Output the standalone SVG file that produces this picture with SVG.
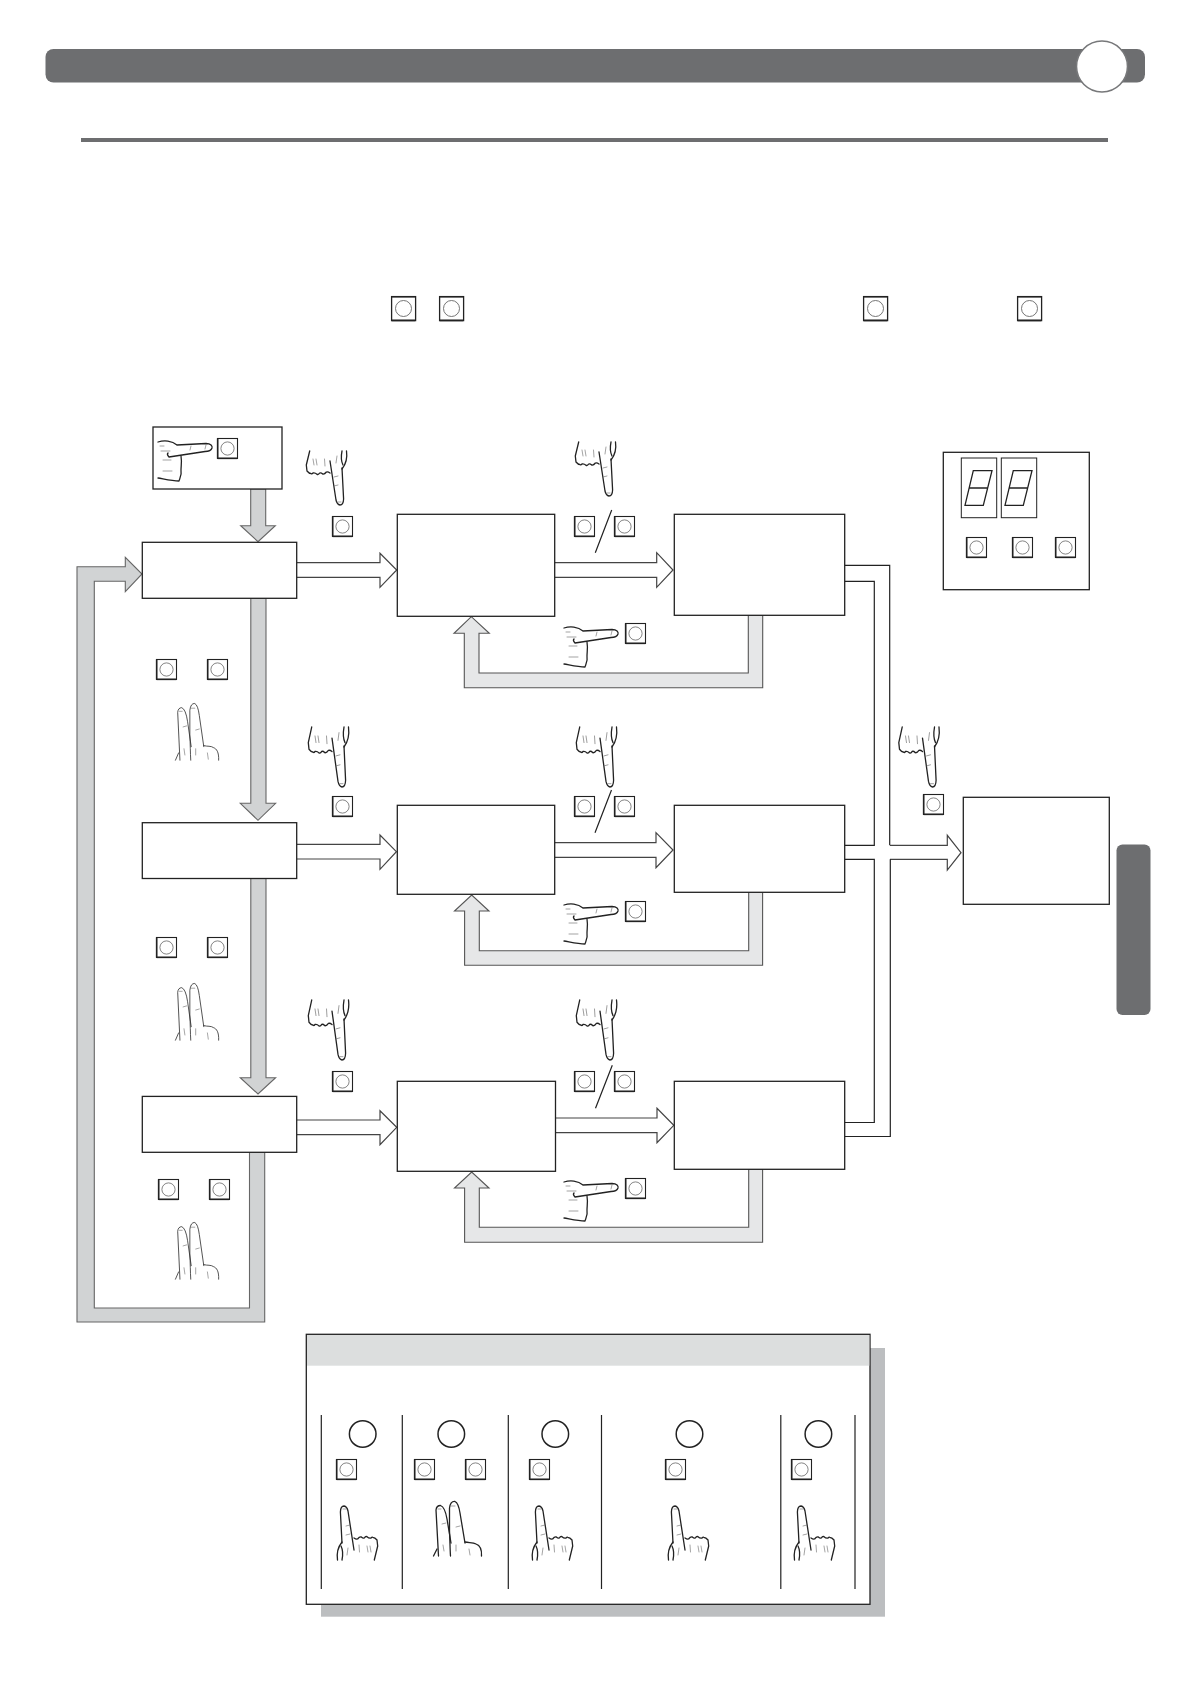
<svg xmlns="http://www.w3.org/2000/svg" xmlns:xlink="http://www.w3.org/1999/xlink" width="1190" height="1684" viewBox="0 0 1190 1684">
<style>
.box{fill:#fff;stroke:#222;stroke-width:1.3}
.thin{fill:#fff;stroke:#222;stroke-width:1}
.dark{fill:#6d6e70}
.white{fill:#fff;stroke:#444;stroke-width:1.2}
.grey{fill:#d1d3d4;stroke:#666;stroke-width:1.1}
.light{fill:#e6e7e8;stroke:#555;stroke-width:1.1}
.line{fill:none;stroke:#222;stroke-width:1.2}
.ink{fill:none;stroke:#222;stroke-linecap:round;stroke-linejoin:round}
.fine{fill:none;stroke:#666;stroke-width:.6;stroke-linecap:round}
.seg{fill:none;stroke:#222;stroke-width:1.3}
.thick{fill:none;stroke:#222;stroke-width:1.5}
.h1{stroke-width:1.3}
.h2{stroke-width:.8}
</style>
<defs>
<g id="btn">
<rect x="0.5" y="0.5" width="20" height="20" fill="#fff" stroke="#222" stroke-width="1.1"/>
<path d="M0.7,20.3H20.3" fill="none" stroke="#222" stroke-width="1.6"/>
<path d="M0.7,0.5V20.5" fill="none" stroke="#222" stroke-width="1.6"/>
<circle cx="10.5" cy="10.5" r="6.6" fill="#fff" stroke="#666" stroke-width=".8"/>
</g>
<g id="btnL">
<rect x="0.6" y="0.6" width="24" height="24" fill="#fff" stroke="#222" stroke-width="1.3"/>
<path d="M0.8,24.4H24.2M0.8,.8H24.2" fill="none" stroke="#222" stroke-width="1.6"/>
<circle cx="12.5" cy="12.5" r="8" fill="#fff" stroke="#666" stroke-width=".9"/>
</g>
<g id="handUp">
<path class="ink" d="M5,37 L3.4,6 Q3.6,0 7,0 Q10,0.5 11,5 L17,44"/>
<path class="ink" d="M17,32 Q19,33.500 20.600,33 Q22.500,30.500 24.300,31 Q26,32.500 27.300,32 Q28.500,30 30,30.700 Q32,32.500 34,32 Q35,30.800 35.700,31.300 Q38,31.500 40,34 L40.700,40 L37.300,54"/>
<path class="ink" d="M5,36 C1,41 -0.500,47 0.500,54"/>
<path class="ink" d="M4,40 C6,44 6,49 5,54"/>
<path class="fine" d="M6,3h3M9,20l4,-1M9,29l4,-1M11,42l-1,7M22,39l0.500,7M30,40l1,6M33,40l1,6"/>
</g>
<g id="handTwo">
<path class="ink" d="M5.500,55 L3,9 Q3.500,4.500 7.500,4.500 Q12,6 14,18 L18,42"/>
<path class="ink" d="M17.500,55 C17,48 17,40 16.500,30 L16.500,7 Q17.500,0 22,0.500 Q25.500,2 27,12 L32,42"/>
<path class="ink" d="M32,41 C36,42 40,41 43,43 C46,44 49,47 48.500,55"/>
<path class="ink" d="M0.500,55 L4,48"/>
<path class="fine" d="M5,8h3M18,5h4M9,23l4,-1M23,26l4,-1M10,44l1,6M23,44l0,6M36,48l1,6"/>
</g>
<g id="handRight">
<path class="ink" d="M0,2 C6,0 14,0.500 19,5 L48,3.500 C53,3.500 54.500,6 54,8 C53,11 50,11.500 47,11.500 L11,17 C9,15 9,14 10,13"/>
<path class="ink" d="M23,16 C24,22 23,26 23,30 C24,35 22,38 21,41 C14,41 6,39 0,38"/>
<path class="fine" d="M3,11h9M5,20h8M5,31h9M32,10l1,-4M47,9l1,-4M2,6h4"/>
</g>
<g id="digit">
<path class="seg" d="M8.300,0H27L18.300,34.700H0ZM4.200,17.300H22.600"/>
</g>
</defs>

<g id="header">
<rect class="dark" x="45.500" y="49" width="1099.500" height="33.500" rx="8"/>
<circle cx="1102" cy="66.500" r="25.500" fill="#fff" stroke="#77787a" stroke-width="1.600"/>
<rect class="dark" x="81" y="138" width="1027" height="4"/>
<rect class="dark" x="1116.500" y="844.500" width="34" height="170.500" rx="6"/>
</g>
<g id="top-buttons">
<use xlink:href="#btnL" href="#btnL" x="391" y="296"/>
<use xlink:href="#btnL" href="#btnL" x="439" y="296"/>
<use xlink:href="#btnL" href="#btnL" x="863" y="296"/>
<use xlink:href="#btnL" href="#btnL" x="1017" y="296"/>
</g>

<g id="connectors">
<path class="grey" d="M250.700,489V525.700H240.700L258,541.700L275.300,525.700H265.700V489Z"/>
<path class="grey" d="M250.800,598V803.300H240.300L258,820.300L275.600,803.300H266V598Z"/>
<path class="grey" d="M250.800,878V1077.700H240.300L258,1094L275.600,1077.700H266V878Z"/>
<path class="grey" d="M249.500,1152V1308H94.300V581.300H125.300V591.700L142,574L125.300,557.300V566.700H77V1322H264.700V1152Z"/>

<path class="white" d="M296.700,562.700H380V553.300L396.700,570L380,587.300V577.300H296.700"/>
<path class="white" d="M554.700,562.700H656.700V552.700L673,570L656.700,587.300V577.300H554.700"/>
<path class="light" d="M748.300,615V673H479V633.300H489.300L471.300,616.700L454,633.300H464.300V687.700H762.700V615Z"/>

<path class="white" d="M296.700,844.300H380V835L396.400,851.700L380,869.300V859H296.700"/>
<path class="white" d="M554.700,842.700H656V832.700L673,850L656,867.700V857.300H554.700"/>
<path class="light" d="M748.700,892V950.700H479.300V911H489L471.700,895L454.500,911H464.600V965.300H762.600V892Z"/>

<path class="white" d="M296.700,1120H380V1110.700L396.700,1127.300L380,1144.700V1134.700H296.700"/>
<path class="white" d="M555.500,1118H657V1108.300L673.800,1125.300L657,1142.700V1132.700H555.500"/>
<path class="light" d="M748.700,1169V1227.300H479.300V1188H489L471.700,1172L454.500,1188H464.600V1242.300H762.600V1169Z"/>

<path class="line" d="M844.700,565.300H889.700V845.300M844.700,581.300H874.300V845.300H844.700"/>
<path class="white" d="M890,845.300H947.300V835.300L961,852.700L947.300,870V859.300H890"/>
<path class="line" d="M890.300,859.300V1136.500H844.700M844.700,859.300H874.300V1122.500H844.700"/>
<path class="line" d="M611.700,510L595.300,552.700M611.500,790L595,832.700M612.300,1065.300L595.500,1108.300"/>
</g>

<g id="node-start">
<rect class="box" x="153" y="427" width="129" height="62"/>
<use class="h1" xlink:href="#handRight" href="#handRight" x="158" y="440"/>
<use xlink:href="#btn" href="#btn" x="217" y="438"/>
</g>
<g id="node-a"><rect class="box" x="142.300" y="542.300" width="154.400" height="56"/></g>
<g id="node-b"><rect class="box" x="142.300" y="822.700" width="154.400" height="55.800"/></g>
<g id="node-c"><rect class="box" x="142.300" y="1096.400" width="154.400" height="55.900"/></g>

<g id="node-r1-l"><rect class="box" x="397.300" y="514.300" width="157.400" height="102"/></g>
<g id="node-r1-r"><rect class="box" x="674.300" y="514.300" width="170.400" height="101"/></g>
<g id="node-r2-l"><rect class="box" x="397.300" y="805.300" width="157.400" height="89"/></g>
<g id="node-r2-r"><rect class="box" x="674.300" y="805.300" width="170.400" height="87"/></g>
<g id="node-r3-l"><rect class="box" x="397.300" y="1081.300" width="158.200" height="90"/></g>
<g id="node-r3-r"><rect class="box" x="674.300" y="1081.300" width="170.400" height="88"/></g>
<g id="node-final"><rect class="box" x="963.300" y="797.300" width="146" height="107"/></g>

<g id="panel">
<rect class="box" x="943.300" y="452.300" width="146" height="137.400"/>
<rect class="thin" x="961.300" y="458" width="35.400" height="59.700"/>
<rect class="thin" x="1001.300" y="458" width="35.400" height="59.700"/>
<use xlink:href="#digit" href="#digit" x="965" y="470.700"/>
<use xlink:href="#digit" href="#digit" x="1005" y="470.700"/>
<use xlink:href="#btn" href="#btn" x="966" y="537"/>
<use xlink:href="#btn" href="#btn" x="1012" y="537"/>
<use xlink:href="#btn" href="#btn" x="1055" y="537"/>
</g>

<g id="controls-left">
<use class="h1" xlink:href="#handUp" href="#handUp" transform="translate(347,505) rotate(180)"/>
<use xlink:href="#btn" href="#btn" x="332" y="516"/>
<use xlink:href="#btn" href="#btn" x="156" y="659"/>
<use xlink:href="#btn" href="#btn" x="207" y="659"/>
<use class="h2" xlink:href="#handTwo" href="#handTwo" transform="translate(175,703) scale(.9,1.04)"/>
<use class="h1" xlink:href="#handUp" href="#handUp" transform="translate(349,787) rotate(180) scale(1,1.11)"/>
<use xlink:href="#btn" href="#btn" x="332" y="796"/>
<use xlink:href="#btn" href="#btn" x="156" y="937"/>
<use xlink:href="#btn" href="#btn" x="207" y="937"/>
<use class="h2" xlink:href="#handTwo" href="#handTwo" transform="translate(175,983) scale(.9,1.04)"/>
<use class="h1" xlink:href="#handUp" href="#handUp" transform="translate(349,1060) rotate(180) scale(1,1.11)"/>
<use xlink:href="#btn" href="#btn" x="332" y="1071"/>
<use xlink:href="#btn" href="#btn" x="158" y="1179"/>
<use xlink:href="#btn" href="#btn" x="209" y="1179"/>
<use class="h2" xlink:href="#handTwo" href="#handTwo" transform="translate(175,1222) scale(.9,1.04)"/>
</g>

<g id="controls-mid">
<use class="h1" xlink:href="#handUp" href="#handUp" transform="translate(616,496) rotate(180)"/>
<use xlink:href="#btn" href="#btn" x="574" y="516"/>
<use xlink:href="#btn" href="#btn" x="614" y="516"/>
<use class="h1" xlink:href="#handRight" href="#handRight" x="564" y="626"/>
<use xlink:href="#btn" href="#btn" x="625" y="623"/>
<use class="h1" xlink:href="#handUp" href="#handUp" transform="translate(617,787) rotate(180) scale(1,1.11)"/>
<use xlink:href="#btn" href="#btn" x="574" y="796"/>
<use xlink:href="#btn" href="#btn" x="614" y="796"/>
<use class="h1" xlink:href="#handRight" href="#handRight" x="564" y="903"/>
<use xlink:href="#btn" href="#btn" x="625" y="901"/>
<use class="h1" xlink:href="#handUp" href="#handUp" transform="translate(617,1060) rotate(180) scale(1,1.11)"/>
<use xlink:href="#btn" href="#btn" x="574" y="1071"/>
<use xlink:href="#btn" href="#btn" x="614" y="1071"/>
<use class="h1" xlink:href="#handRight" href="#handRight" x="564" y="1180"/>
<use xlink:href="#btn" href="#btn" x="625" y="1178"/>
<use class="h1" xlink:href="#handUp" href="#handUp" transform="translate(939.500,787) rotate(180) scale(1,1.11)"/>
<use xlink:href="#btn" href="#btn" x="923" y="794"/>
</g>

<g id="legend">
<rect x="321" y="1348" width="564" height="268.700" fill="#bcbec0"/>
<rect class="box" x="306.300" y="1334.300" width="563.700" height="270"/>
<rect x="307" y="1335" width="562.300" height="30.700" fill="#dcdede"/>
<path class="line" d="M321.300,1415V1589M402.300,1415V1589M508.300,1415V1589M601.500,1415V1589M780.800,1415V1589M855,1415V1589"/>
<circle class="thick" cx="362.700" cy="1434" r="13.300"/>
<circle class="thick" cx="451.300" cy="1434" r="13.300"/>
<circle class="thick" cx="555.300" cy="1434" r="13.300"/>
<circle class="thick" cx="689.500" cy="1434" r="13.300"/>
<circle class="thick" cx="818.400" cy="1434" r="13.300"/>
<use xlink:href="#btn" href="#btn" x="336" y="1459"/>
<use xlink:href="#btn" href="#btn" x="414" y="1459"/>
<use xlink:href="#btn" href="#btn" x="465" y="1459"/>
<use xlink:href="#btn" href="#btn" x="529" y="1459"/>
<use xlink:href="#btn" href="#btn" x="665" y="1459"/>
<use xlink:href="#btn" href="#btn" x="791" y="1459"/>
<use class="h1" xlink:href="#handUp" href="#handUp" x="337" y="1506"/>
<use class="h1" xlink:href="#handTwo" href="#handTwo" x="433" y="1501"/>
<use class="h1" xlink:href="#handUp" href="#handUp" x="532" y="1506"/>
<use class="h1" xlink:href="#handUp" href="#handUp" x="668" y="1506"/>
<use class="h1" xlink:href="#handUp" href="#handUp" x="794" y="1506"/>
</g>
</svg>
